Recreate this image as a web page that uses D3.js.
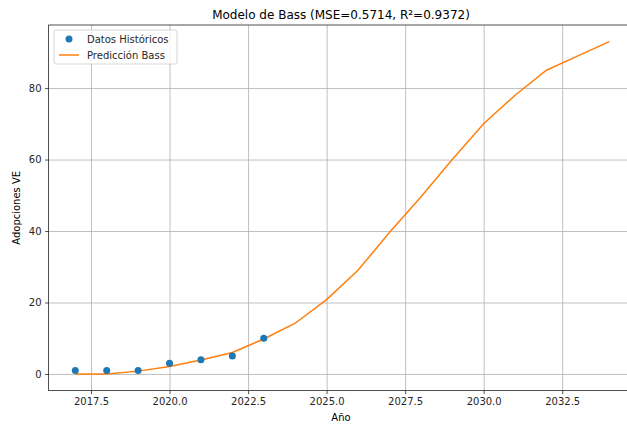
<!DOCTYPE html>
<meta charset="utf-8">
<style>
  html, body { margin: 0; padding: 0; overflow: hidden; background: #fff; }
  body { font-family: "DejaVu Sans", sans-serif; }
  .axis text { font: 10px "DejaVu Sans"; fill: #262626; }
  .axis path, .axis line { stroke: #262626; stroke-width: 0.8px; }
  .grid line { stroke: #b0b0b0; stroke-width: 0.8px; }
  .grid path { display: none; }
</style>
<svg width="627" height="426"></svg>
<script src="https://d3js.org/d3.v7.min.js"></script>
<script>
var histYears = [2017, 2018, 2019, 2020, 2021, 2022, 2023];
var histValues = [1, 1, 1, 3, 4, 5, 10];

var predYears = [2017, 2018, 2019, 2020, 2021, 2022, 2023, 2024, 2025, 2026,
                 2027, 2028, 2029, 2030, 2031, 2032, 2033, 2034];
var predValues = [0, 0, 0.8, 2.1, 3.9, 6, 9.8, 14.2, 20.8, 29, 39.6, 49.5,
                  60, 70, 78, 85, 89, 93];

var xTicks = [2017.5, 2020.0, 2022.5, 2025.0, 2027.5, 2030.0, 2032.5];
var yTicks = [0, 20, 40, 60, 80];

var plotL = 48.6, plotR = 636, plotT = 25, plotB = 390.6;

var svg = d3.select("svg");

var x = d3.scaleLinear().domain([2016.15, 2034.85]).range([plotL, plotR]);
var y = d3.scaleLinear().domain([-4.65, 97.65]).range([plotB, plotT]);

// grid
svg.append("g").attr("class", "grid")
    .attr("transform", "translate(0," + plotB + ")")
    .call(d3.axisBottom(x).tickValues(xTicks).tickSize(-(plotB - plotT)).tickFormat(""));
svg.append("g").attr("class", "grid")
    .attr("transform", "translate(" + plotL + ",0)")
    .call(d3.axisLeft(y).tickValues(yTicks).tickSize(-(plotR - plotL)).tickFormat(""));

// prediction line
var line = d3.line()
    .x(function(d, i) { return x(predYears[i]); })
    .y(function(d) { return y(d); });

svg.append("path")
    .datum(predValues)
    .attr("fill", "none")
    .attr("stroke", "#ff7f0e")
    .attr("stroke-width", 1.5)
    .attr("d", line);

// historical points
svg.selectAll(".dot")
    .data(histValues)
  .enter().append("circle")
    .attr("cx", function(d, i) { return x(histYears[i]); })
    .attr("cy", function(d) { return y(d); })
    .attr("r", 3.5)
    .attr("fill", "#1f77b4");

// frame
svg.append("rect")
    .attr("x", plotL).attr("y", plotT)
    .attr("width", plotR - plotL).attr("height", plotB - plotT)
    .attr("fill", "none").attr("stroke", "#262626").attr("stroke-width", 0.8);

// axes
svg.append("g").attr("class", "axis")
    .attr("transform", "translate(0," + plotB + ")")
    .call(d3.axisBottom(x).tickValues(xTicks).tickSize(3.5).tickPadding(3.5)
      .tickFormat(d3.format(".1f")))
    .call(function(g) { g.select(".domain").remove(); });
svg.append("g").attr("class", "axis")
    .attr("transform", "translate(" + plotL + ",0)")
    .call(d3.axisLeft(y).tickValues(yTicks).tickSize(3.5).tickPadding(3.5))
    .call(function(g) { g.select(".domain").remove(); });

// title and labels
svg.append("text")
    .attr("x", 341).attr("y", 19)
    .attr("text-anchor", "middle")
    .style("font", "12px 'DejaVu Sans'")
    .style("fill", "#000")
    .text("Modelo de Bass (MSE=0.5714, R²=0.9372)");

svg.append("text")
    .attr("x", 341).attr("y", 421)
    .attr("text-anchor", "middle")
    .style("font", "10px 'DejaVu Sans'")
    .style("fill", "#000")
    .text("Año");

svg.append("text")
    .attr("transform", "translate(20," + ((plotT + plotB) / 2) + ") rotate(-90)")
    .attr("text-anchor", "middle")
    .style("font", "10px 'DejaVu Sans'")
    .style("fill", "#000")
    .text("Adopciones VE");

// legend
var legend = svg.append("g").attr("transform", "translate(54,30)");
legend.append("rect")
    .attr("width", 123).attr("height", 34).attr("rx", 2)
    .attr("fill", "#fff").attr("fill-opacity", 0.8)
    .attr("stroke", "#ccc").attr("stroke-width", 0.8);
legend.append("circle")
    .attr("cx", 15).attr("cy", 9).attr("r", 3.5).attr("fill", "#1f77b4");
legend.append("line")
    .attr("x1", 5).attr("x2", 25).attr("y1", 25).attr("y2", 25)
    .attr("stroke", "#ff7f0e").attr("stroke-width", 1.5);
legend.append("text")
    .attr("x", 33).attr("y", 12.5)
    .style("font", "10px 'DejaVu Sans'").style("fill", "#262626")
    .text("Datos Históricos");
legend.append("text")
    .attr("x", 33).attr("y", 28.5)
    .style("font", "10px 'DejaVu Sans'").style("fill", "#262626")
    .text("Predicción Bass");
</script>
